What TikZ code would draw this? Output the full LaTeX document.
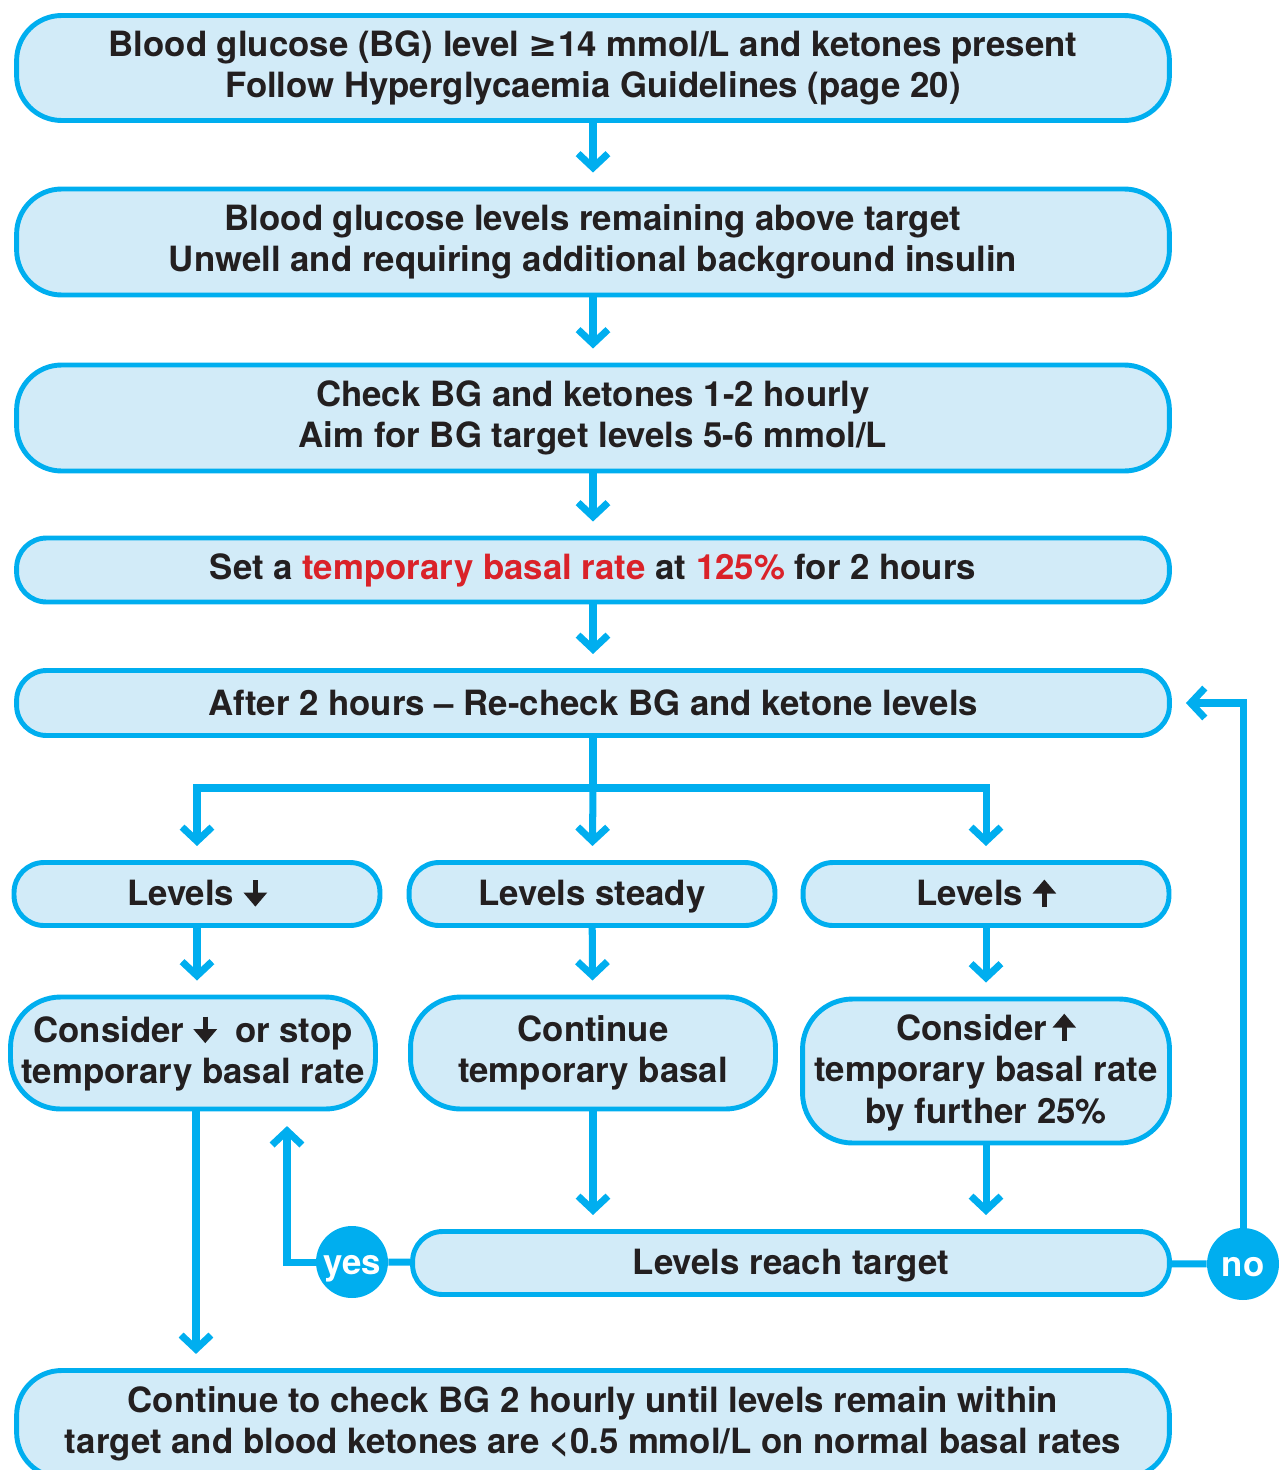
\documentclass[tikz,border=0pt]{standalone}
\usepackage{fontspec}
\setmainfont{TeX Gyre Heros}
\newfontfamily\symfont{DejaVu Sans}
\usetikzlibrary{arrows.meta,positioning,calc}

\definecolor{boxline}{RGB}{0,174,239}
\definecolor{boxfill}{RGB}{210,235,248}
\definecolor{hired}{RGB}{218,34,41}
\definecolor{ink}{RGB}{35,31,32}

% small bold arrows in the text
\newcommand{\arrdown}{\tikz[baseline=0pt]\draw[ink,line width=2.6pt,-{Triangle[length=8pt,width=13pt]}] (0,0.74em) -- (0,-0.02em);}
\newcommand{\arrup}{\tikz[baseline=0pt]\draw[ink,line width=2.6pt,-{Triangle[length=8pt,width=13pt]}] (0,-0.02em) -- (0,0.76em);}

\begin{document}
\begin{tikzpicture}[x=0.02cm,y=-0.02cm,
  box/.style={draw=boxline,fill=boxfill,line width=2.8pt,align=center,text=ink,
    font=\fontsize{19.8}{23.6}\selectfont\bfseries,inner sep=0pt},
  widebox/.style={box,minimum width=23.06cm,rounded corners=0.9cm},
  smallbox/.style={box,minimum width=7.32cm,minimum height=1.26cm,rounded corners=0.6cm,
    text height=16pt,text depth=2.4pt},
  conn/.style={draw=boxline,line width=4pt},
  flow/.style={conn,-{Straight Barb[length=8pt,width=17pt]},shorten >=8pt},
  answer/.style={circle,fill=boxline,text=white,minimum size=1.44cm,inner sep=0pt,
    text height=14pt,text depth=0pt,font=\fontsize{19.8}{23}\selectfont\bfseries}]
\useasboundingbox (0,0) rectangle (1285,1470);

% Main column
\node[widebox,minimum height=2.1cm] (b1) at (593,68)
  {Blood glucose (BG) level {\symfont ≥}14 mmol/L and ketones present\\Follow Hyperglycaemia Guidelines (page 20)};
\node[widebox,minimum height=2.12cm] (b2) at (593,242)
  {Blood glucose levels remaining above target\\Unwell and requiring additional background insulin};
\node[widebox,minimum height=2.12cm] (b3) at (593,418)
  {Check BG and ketones 1-2 hourly\\Aim for BG target levels 5-6 mmol/L};
\node[widebox,minimum height=1.28cm,rounded corners=0.6cm] (b4) at (593,570)
  {Set a \textcolor{hired}{temporary basal rate} at \textcolor{hired}{125\%} for 2 hours};
\node[widebox,minimum height=1.3cm,rounded corners=0.6cm] (b5) at (593,703)
  {After 2 hours -- Re-check BG and ketone levels};

\draw[flow] (b1) -- (b2);
\draw[flow] (b2) -- (b3);
\draw[flow] (b3) -- (b4);
\draw[flow] (b4) -- (b5);

% Three outcomes
\node[smallbox] (down) at (197,894) {Levels \arrdown};
\node[smallbox] (steady) at (592,894) {Levels steady};
\node[smallbox] (up) at (986,894) {Levels \arrup};

\coordinate (split) at (593,788);
\draw[conn] (b5) -- (split);
\draw[flow] (split) -| (down);
\draw[flow] (split) -- (steady);
\draw[flow] (split) -| (up);

\node[box,minimum width=7.3cm,minimum height=2.24cm,rounded corners=1cm] (lower) at (193,1053)
  {Consider \arrdown\hspace{0.25em} or stop\\temporary basal rate};
\node[box,minimum width=7.3cm,minimum height=2.24cm,rounded corners=1cm] (keep) at (593,1053)
  {Continue\\temporary basal};
\node[box,minimum width=7.34cm,minimum height=2.88cm,rounded corners=1cm] (raise) at (986,1071)
  {Consider\,\arrup\\temporary basal rate\\by further 25\%};

\draw[flow] (down) -- (down |- lower.north);
\draw[flow] (steady) -- (keep);
\draw[flow] (up) -- (raise);

% Target check
\node[box,minimum width=15.14cm,minimum height=1.26cm,rounded corners=0.6cm,
  text height=16pt,text depth=2.4pt] (target) at (791,1263)
  {Levels reach target};
\draw[flow] (keep) -- (keep |- target.north);
\draw[flow] (raise) -- (raise |- target.north);

\node[answer] (yes) at (352,1262) {yes};
\node[answer] (no) at (1243,1264) {no};
\coordinate (yesend) at (287,1112);
\draw[conn] (target) -- (yes);
\draw[conn] (target) -- (no);
\draw[flow] (yes) -| (yesend);
\draw[flow] (no) |- (b5);

% Final box
\node[widebox,minimum height=2.14cm] (final) at (593,1424)
  {Continue to check BG 2 hourly until levels remain within\\target and blood ketones are <0.5 mmol/L on normal basal rates};
\draw[flow] (lower.south -| 196,0) -- (196,1368);
\end{tikzpicture}
\end{document}
